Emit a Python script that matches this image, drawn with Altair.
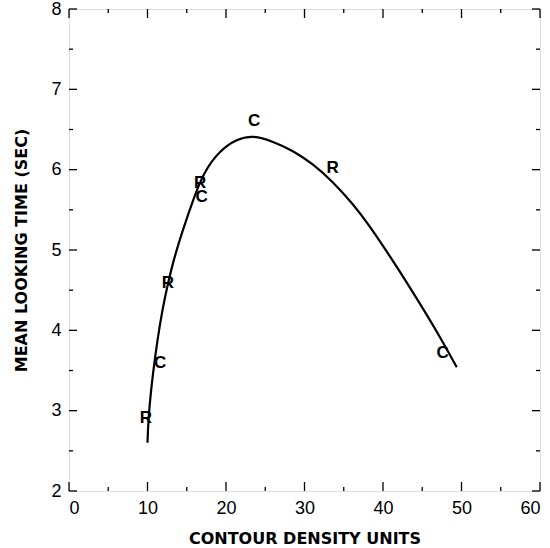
import altair as alt
import pandas as pd

# curve
curve_x = [10.0, 10.1, 10.45, 10.96, 11.6, 12.2, 13.2, 14.5, 15.8, 17.1, 19.2, 21.4, 23.4,
           26.0, 28.5, 31.1, 33.6, 36.2, 38.3, 40.9, 43.4, 45.6, 47.3, 49.4]
curve_y = [2.60, 2.88, 3.26, 3.67, 4.09, 4.41, 4.84, 5.25, 5.62, 5.96, 6.24, 6.38, 6.43,
           6.35, 6.24, 6.07, 5.85, 5.57, 5.30, 4.92, 4.54, 4.19, 3.91, 3.54]

# letter markers
lab_text = ["R", "C", "R", "R", "C", "C", "R", "C"]
lab_x = [9.8, 11.6, 12.6, 16.7, 16.9, 23.6, 33.6, 47.6]
lab_y = [2.91, 3.59, 4.59, 5.83, 5.66, 6.60, 6.02, 3.72]

x_major = [0, 10, 20, 30, 40, 50, 60]
x_minor = [5, 15, 25, 35, 45, 55]
y_major = [2, 3, 4, 5, 6, 7, 8]
y_minor = [2.5, 3.5, 4.5, 5.5, 6.5, 7.5]

W, H = 471, 482
FONT = "Liberation Sans"
TFONT = "DejaVu Sans"

curve = pd.DataFrame({"x": curve_x, "y": curve_y, "i": list(range(len(curve_x)))})
labels = pd.DataFrame({"t": lab_text, "x": lab_x, "y": lab_y})

xs = alt.Scale(domain=[0, 60], nice=False, zero=False)
ys = alt.Scale(domain=[2, 8], nice=False, zero=False)

xaxis = alt.Axis(values=x_major, format="d", ticks=False, domain=False, grid=False,
                 labelFont=FONT, labelFontSize=18, labelColor="black", labelPadding=8,
                 title="CONTOUR DENSITY UNITS", titleFont=TFONT, titleFontSize=16,
                 titleFontWeight="bold", titleColor="black", titlePadding=13)
yaxis = alt.Axis(values=y_major, format="d", ticks=False, domain=False, grid=False,
                 labelFont=FONT, labelFontSize=18, labelColor="black", labelPadding=8,
                 title="MEAN  LOOKING  TIME  (SEC)", titleFont=TFONT, titleFontSize=16,
                 titleFontWeight="bold", titleColor="black", titlePadding=21)

X = lambda f: alt.X(f, scale=xs, axis=xaxis)
Y = lambda f: alt.Y(f, scale=ys, axis=yaxis)

line = alt.Chart(curve).mark_line(color="black", strokeWidth=2.2, interpolate="basis").encode(
    x=X("x:Q"), y=Y("y:Q"), order="i:Q",
)

text = alt.Chart(labels).mark_text(font=FONT, fontSize=17, fontWeight="bold", color="black").encode(
    x=X("x:Q"), y=Y("y:Q"), text="t:N")

def xticks(vals, L):
    d = pd.DataFrame({"v": vals})
    bot = alt.Chart(d).mark_rule(color="black", strokeWidth=1.3).encode(
        x=X("v:Q"), y=alt.value(H), y2=alt.value(H - L))
    top = alt.Chart(d).mark_rule(color="black", strokeWidth=1.3).encode(
        x=X("v:Q"), y=alt.value(0), y2=alt.value(L))
    return [bot, top]

def yticks(vals, L):
    d = pd.DataFrame({"v": vals})
    left = alt.Chart(d).mark_rule(color="black", strokeWidth=1.3).encode(
        y=Y("v:Q"), x=alt.value(0), x2=alt.value(L))
    right = alt.Chart(d).mark_rule(color="black", strokeWidth=1.3).encode(
        y=Y("v:Q"), x=alt.value(W), x2=alt.value(W - L))
    return [left, right]

layers = [line, text] + xticks(x_major, 9) + xticks(x_minor, 4) + yticks(y_major, 8) + yticks(y_minor, 4)

chart = alt.layer(*layers).properties(
    width=W, height=H,
    autosize=alt.AutoSizeParams(type="none"),
    padding={"left": 69, "top": 9, "right": 10, "bottom": 57},
).configure_view(stroke="black", strokeWidth=1.6).configure(background="white")

chart.save("out.html", embed_options={"renderer": "svg", "actions": False})
